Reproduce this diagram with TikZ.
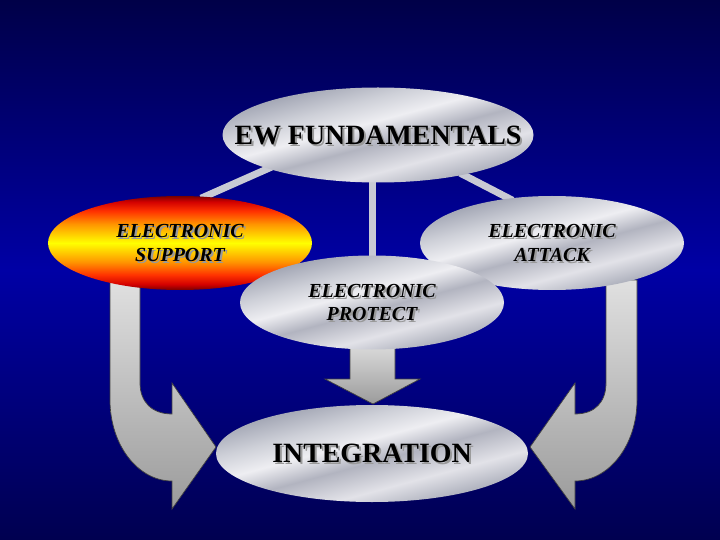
\documentclass[tikz,border=0pt]{standalone}
\usepackage{fontspec}
\setmainfont{Liberation Serif}
\usetikzlibrary{shapes.geometric,positioning}

\definecolor{navytop}{RGB}{0,0,72}
\definecolor{navymid}{RGB}{0,0,165}
\definecolor{navybot}{RGB}{0,0,80}
\definecolor{linkgray}{RGB}{200,202,212}
\definecolor{arrowtop}{RGB}{224,224,224}
\definecolor{arrowbot}{RGB}{155,155,155}
\definecolor{metalA}{RGB}{150,154,170}
\definecolor{metalB}{RGB}{206,208,216}
\definecolor{metalC}{RGB}{238,238,242}
\definecolor{metalD}{RGB}{178,180,192}
\definecolor{metalE}{RGB}{226,226,232}
\definecolor{metalG}{RGB}{156,160,174}
\definecolor{fireA}{RGB}{120,0,0}
\definecolor{fireB}{RGB}{210,0,0}
\definecolor{fireC}{RGB}{255,50,0}
\definecolor{fireD}{RGB}{255,150,0}
\definecolor{fireE}{RGB}{255,255,0}

\pgfdeclarehorizontalshading{metal}{100bp}{color(0bp)=(metalA); color(25bp)=(metalA);
  color(37bp)=(metalB); color(45bp)=(metalC); color(53bp)=(metalD); color(63bp)=(metalE);
  color(75bp)=(metalG); color(100bp)=(metalG)}
\pgfdeclareverticalshading{fire}{100bp}{color(0bp)=(fireA); color(25bp)=(fireA);
  color(28bp)=(fireB); color(33bp)=(fireC); color(40bp)=(fireD); color(50bp)=(fireE);
  color(60bp)=(fireD); color(67bp)=(fireC); color(72bp)=(fireB); color(75bp)=(fireA);
  color(100bp)=(fireA)}

\pgfdeclarelayer{bg}
\pgfdeclarelayer{links}
\pgfsetlayers{bg,links,main}

\newcommand{\ewbig}{\bfseries\fontsize{28}{32}\selectfont}
\newcommand{\ewsmall}{\bfseries\itshape\fontsize{20}{24}\selectfont}
% text with its shadow, centred on an oval
\newcommand{\ewtext}[3]{%
  \node[txtshadow, font=#2] (#1-shd) at ([xshift=2bp,yshift=-2bp]#1.center) {#3};
  \node[align=center, font=#2] (#1-txt) at (#1.center) {#3};
}

\tikzset{
  oval/.style={ellipse, inner sep=0pt, shading=metal, shading angle=-75},
  bigoval/.style={oval, minimum width=311bp, minimum height=95bp},
  smalloval/.style={oval, minimum width=264bp, minimum height=94bp},
  hot/.style={shading=fire, shading angle=0},
  link/.style={linkgray, line width=7bp, shorten <=-4bp, shorten >=-4bp},
  blockarrow/.style={top color=arrowtop, bottom color=arrowbot, draw=black!75, line width=0.7bp},
  txtshadow/.style={text=black!40, align=center}
}

\begin{document}
\begin{tikzpicture}[x=1bp, y=-1bp]
    \useasboundingbox (0,0) rectangle (720,540);
    \begin{pgfonlayer}{bg}
      \shade[top color=navytop, bottom color=navybot, middle color=navymid] (0,0) rectangle (720,540);
    \end{pgfonlayer}

    % block arrows into the integration oval
    \path[blockarrow] (110,280) -- (110,400) .. controls (110,445) and (138,481) .. (172,481)
      -- (172,509) -- (216,447) -- (172,383) -- (172,414)
      .. controls (152,414) and (140,402) .. (140,383) -- (140,280) -- cycle;
    \path[blockarrow] (637,280) -- (637,400) .. controls (637,445) and (609,481) .. (575,481)
      -- (575,509) -- (530,447) -- (575,383) -- (575,414)
      .. controls (595,414) and (606,402) .. (606,383) -- (606,280) -- cycle;
    \path[blockarrow] (350,340) -- (350,379) -- (325,379) -- (373,404)
      -- (420,379) -- (395,379) -- (395,340) -- cycle;

    \node[bigoval] (ew) at (378,135) {};
    \node[smalloval, hot] (es) at (180,243) {};
    \node[smalloval] (ea) at (552,243) {};
    \node[smalloval] (ep) at (372,302.5) {};
    \node[bigoval, minimum width=312bp, minimum height=97bp] (int) at (372,453.5) {};

    \begin{pgfonlayer}{links}
      \draw[link] (ew.197) -- (es.62);
      \draw[link] (ew.335) -- (ea.134);
      \draw[link] (ep.north) -- (ep.north |- ew.south);
    \end{pgfonlayer}

    \ewtext{ew}{\ewbig}{EW FUNDAMENTALS}
    \ewtext{es}{\ewsmall}{ELECTRONIC\\SUPPORT}
    \ewtext{ea}{\ewsmall}{ELECTRONIC\\ATTACK}
    \ewtext{ep}{\ewsmall}{ELECTRONIC\\PROTECT}
    \ewtext{int}{\ewbig}{INTEGRATION}
\end{tikzpicture}
\end{document}
